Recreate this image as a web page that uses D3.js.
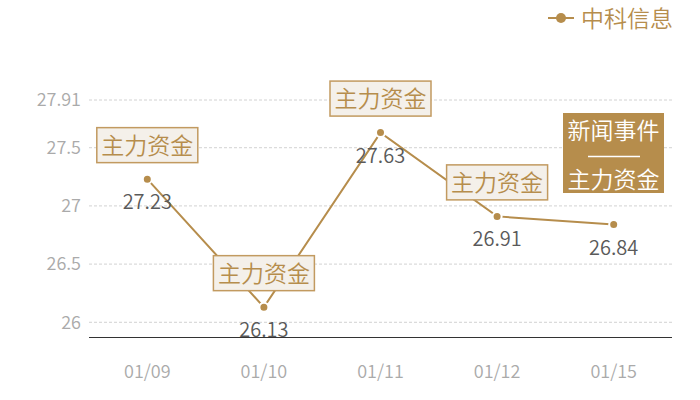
<!DOCTYPE html>
<html><head><meta charset="utf-8">
<script src="https://cdn.jsdelivr.net/npm/d3@7/dist/d3.min.js"></script>
<style>body{margin:0;background:#fff}svg{display:block}</style>
</head><body>
<svg id="c" width="700" height="400"></svg>
<script>
const categories = ["01/09","01/10","01/11","01/12","01/15"];
const values = [27.23, 26.13, 27.63, 26.91, 26.84];
const annotations = ["主力资金","主力资金","主力资金","主力资金",null];
const yTicks = [26, 26.5, 27, 27.5, 27.91];
const yTickLabels = ["26","26.5","27","27.5","27.91"];
const seriesName = "中科信息";
const newsLines = ["新闻事件","主力资金"];

const gold = "#b68d4c";
const font = "'Noto Sans CJK SC', 'Noto Sans', sans-serif";
const fw = 350;
const svg = d3.select("#c");
const x = d3.scaleBand().domain(categories).range([89, 672]);
const y = d3.scaleLinear().domain([25.871, 27.91]).range([337.3, 100]);
const cx = d => x(d) + x.bandwidth()/2;

// grid
svg.append("g").selectAll("line").data(yTicks).join("line")
  .attr("x1", 89).attr("x2", 672)
  .attr("y1", d => y(d)).attr("y2", d => y(d))
  .attr("stroke", "#d2d2d2").attr("stroke-dasharray", "3,2").attr("stroke-width", 1);

// y labels
svg.append("g").selectAll("text").data(yTicks).join("text")
  .attr("x", 81).attr("y", d => y(d)).attr("dy", "0.35em")
  .attr("text-anchor", "end").attr("fill", "#aaaaaa")
  .attr("font-family", font).attr("font-size", 18).attr("font-weight", fw)
  .text((d,i) => yTickLabels[i]);

// x axis
svg.append("line").attr("x1", 89).attr("x2", 672).attr("y1", 337.5).attr("y2", 337.5)
  .attr("stroke", "#333").attr("stroke-width", 1);
svg.append("g").selectAll("text").data(categories).join("text")
  .attr("x", d => cx(d)).attr("y", 372).attr("dy", "0.35em")
  .attr("text-anchor", "middle").attr("fill", "#aaaaaa")
  .attr("font-family", font).attr("font-size", 18).attr("font-weight", fw)
  .text(d => d);

// line
const pts = categories.map((c,i) => ({c, v: values[i], a: annotations[i]}));
svg.append("path").datum(pts)
  .attr("d", d3.line().x(d => cx(d.c)).y(d => y(d.v)))
  .attr("fill", "none").attr("stroke", gold).attr("stroke-width", 2);

svg.append("g").selectAll("circle").data(pts).join("circle")
  .attr("cx", d => cx(d.c)).attr("cy", d => y(d.v)).attr("r", 4.5)
  .attr("fill", gold).attr("stroke", "#fff").attr("stroke-width", 2);

// value labels
svg.append("g").selectAll("text").data(pts).join("text")
  .attr("x", d => cx(d.c)).attr("y", d => y(d.v) + 23).attr("dy", "0.35em")
  .attr("text-anchor", "middle").attr("fill", "#5a5a5a")
  .attr("font-family", font).attr("font-size", 20).attr("font-weight", fw)
  .text(d => d.v.toFixed(2));

// annotation boxes
const ann = svg.append("g").selectAll("g").data(pts.filter(d => d.a)).join("g")
  .attr("transform", d => `translate(${cx(d.c)},${y(d.v) - 34.5})`);
ann.append("rect").attr("x", -50.5).attr("y", -17).attr("width", 101).attr("height", 35)
  .attr("fill", "#f4f0ea").attr("stroke", "#c29a60").attr("stroke-width", 1.5);
ann.append("text").attr("x", 0).attr("y", 1).attr("dy", "0.35em")
  .attr("text-anchor", "middle").attr("fill", gold)
  .attr("font-family", font).attr("font-size", 23).attr("font-weight", fw)
  .text(d => d.a);

// news box
const nb = svg.append("g").attr("transform", "translate(563,113)");
nb.append("rect").attr("width", 101).attr("height", 80).attr("fill", gold);
nb.append("text").attr("x", 50.5).attr("y", 18).attr("dy", "0.35em").attr("text-anchor", "middle")
  .attr("fill", "#fff").attr("font-family", font).attr("font-size", 23).attr("font-weight", fw).text(newsLines[0]);
nb.append("line").attr("x1", 25).attr("x2", 77).attr("y1", 43.5).attr("y2", 43.5)
  .attr("stroke", "#fff").attr("stroke-width", 1.5);
nb.append("text").attr("x", 50.5).attr("y", 67).attr("dy", "0.35em").attr("text-anchor", "middle")
  .attr("fill", "#fff").attr("font-family", font).attr("font-size", 23).attr("font-weight", fw).text(newsLines[1]);

// legend
const lg = svg.append("g");
lg.append("line").attr("x1", 548).attr("x2", 574).attr("y1", 18).attr("y2", 18)
  .attr("stroke", gold).attr("stroke-width", 2);
lg.append("circle").attr("cx", 561).attr("cy", 18).attr("r", 5).attr("fill", gold);
lg.append("text").attr("x", 673).attr("y", 19).attr("dy", "0.35em").attr("text-anchor", "end")
  .attr("fill", gold).attr("font-family", font).attr("font-size", 23).attr("font-weight", fw).text(seriesName);
</script>
</body></html>
